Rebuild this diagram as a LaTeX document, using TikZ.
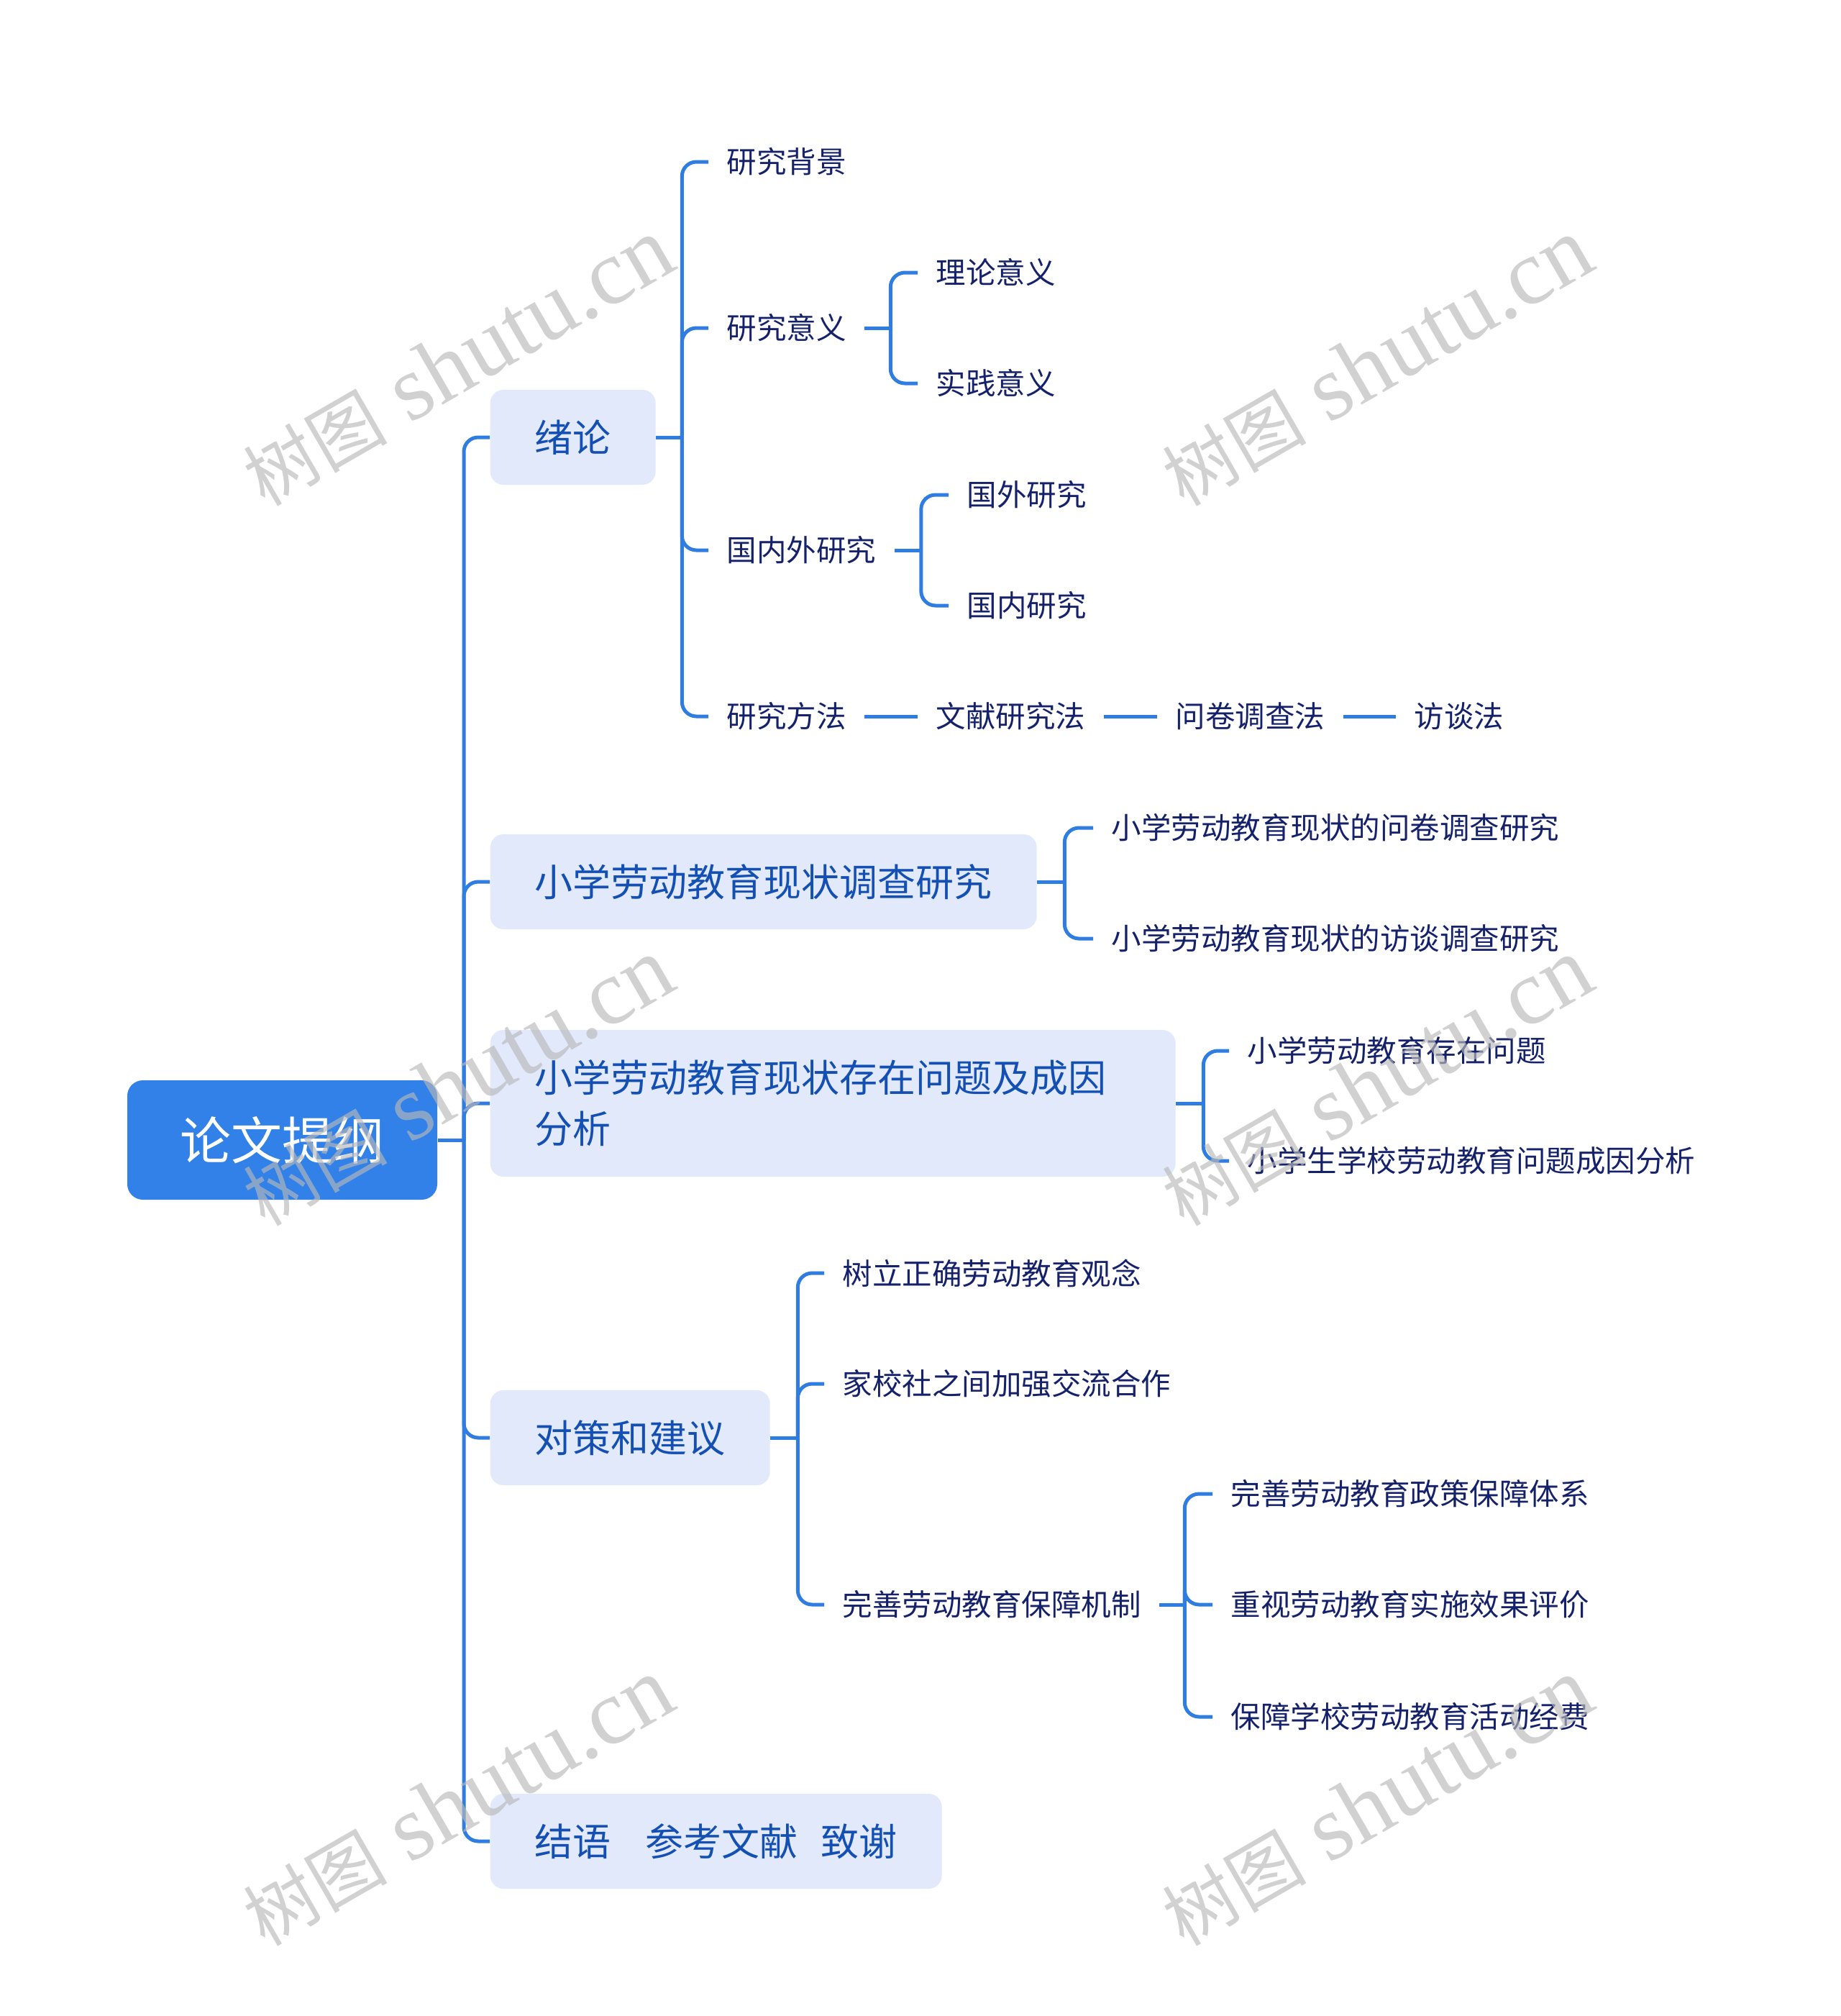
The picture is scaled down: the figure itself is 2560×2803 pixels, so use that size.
\documentclass[tikz,border=0pt]{standalone}
\usepackage{fontspec}
\setmainfont{Noto Sans CJK SC}
\newfontfamily\wmserif{Liberation Serif}
\usetikzlibrary{calc}
\definecolor{linec}{HTML}{2F7DE1}
\definecolor{rootc}{HTML}{3181E8}
\definecolor{boxc}{HTML}{E1E9FB}
\definecolor{lvonetext}{HTML}{1450B4}
\definecolor{lvtwotext}{HTML}{15226B}
\definecolor{wmc}{HTML}{B8B8B8}
\begin{document}
\begin{tikzpicture}[x=0.3pt,y=-0.3pt,
  conn/.style={draw=linec, line width=1.5pt, rounded corners=6pt},
  stub/.style={draw=linec, line width=1.5pt},
  rootbox/.style={fill=rootc, rounded corners=6.5pt, text=white, font=\fontsize{21.3}{25}\selectfont, minimum width=129.3pt, minimum height=49.8pt, inner sep=0pt},
  lvone/.style={fill=boxc, rounded corners=5.5pt, text=lvonetext, font=\fontsize{15.9}{21.3}\selectfont, inner xsep=18.6pt, inner ysep=0pt, minimum height=39.6pt, anchor=west},
  lvtwo/.style={text=lvtwotext, font=\fontsize{12.45}{15}\selectfont, inner xsep=7.5pt, inner ysep=0pt, anchor=west},
  wm/.style={text=wmc, opacity=0.65, rotate=30, inner sep=0pt, anchor=base east, font=\wmserif\fontsize{38.7}{40}\selectfont}
]
\useasboundingbox (0,0) rectangle (2560,2803);

% root
\node[rootbox] (root) at (392.5,1585) {论文提纲};
\coordinate (trunk) at (645,1585);

% level 1
\node[lvone] (xulun) at (681,608) {绪论};
\node[lvone] (diaocha) at (681,1226) {小学劳动教育现状调查研究};
\node[lvone, text width=248.7pt, align=left, minimum height=61.2pt] (wenti) at (681,1534) {小学劳动教育现状存在问题及成因\\分析};
\node[lvone] (duice) at (681,1999) {对策和建议};
\node[lvone] (jieyu) at (681,2560) {结语\hspace{14.4pt}参考文献\hspace{9.6pt}致谢};

\draw[stub] (root.east) -- (trunk);
\foreach \n in {xulun,diaocha,wenti,duice,jieyu} \draw[conn] (trunk) |- (\n.west);

% 绪论 children
\node[lvtwo] (bj) at (985,225) {研究背景};
\node[lvtwo] (yy) at (985,456) {研究意义};
\node[lvtwo] (gnw) at (985,765) {国内外研究};
\node[lvtwo] (ff) at (985,996) {研究方法};
\coordinate (jx) at ($(xulun.east)+(36,0)$);
\draw[stub] (xulun.east) -- (jx);
\foreach \n in {bj,yy,gnw,ff} \draw[conn] (jx) |- (\n.west);

% 研究意义 children
\node[lvtwo] (ll) at (1276,379) {理论意义};
\node[lvtwo] (sj) at (1276,533) {实践意义};
\coordinate (jyy) at ($(yy.east)+(36,0)$);
\draw[stub] (yy.east) -- (jyy);
\foreach \n in {ll,sj} \draw[conn] (jyy) |- (\n.west);

% 国内外研究 children
\node[lvtwo] (gw) at (1319,688) {国外研究};
\node[lvtwo] (gn) at (1319,842) {国内研究};
\coordinate (jg) at ($(gnw.east)+(37,0)$);
\draw[stub] (gnw.east) -- (jg);
\foreach \n in {gw,gn} \draw[conn] (jg) |- (\n.west);

% 研究方法 chain
\node[lvtwo] (wx) at (1276,996) {文献研究法};
\node[lvtwo] (wj) at (1609,996) {问卷调查法};
\node[lvtwo] (ft) at (1941,996) {访谈法};
\draw[stub] (ff.east) -- (wx.west);
\draw[stub] (wx.east) -- (wj.west);
\draw[stub] (wj.east) -- (ft.west);

% 调查研究 children
\node[lvtwo] (dc1) at (1520,1151) {小学劳动教育现状的问卷调查研究};
\node[lvtwo] (dc2) at (1520,1305) {小学劳动教育现状的访谈调查研究};
\coordinate (jd) at ($(diaocha.east)+(38,0)$);
\draw[stub] (diaocha.east) -- (jd);
\foreach \n in {dc1,dc2} \draw[conn] (jd) |- (\n.west);

% 存在问题 children
\node[lvtwo] (wt1) at (1709,1461) {小学劳动教育存在问题};
\node[lvtwo] (wt2) at (1709,1614) {小学生学校劳动教育问题成因分析};
\coordinate (jw) at ($(wenti.east)+(38,0)$);
\draw[stub] (wenti.east) -- (jw);
\foreach \n in {wt1,wt2} \draw[conn] (jw) |- (\n.west);

% 对策和建议 children
\node[lvtwo] (dc) at (1146,1770) {树立正确劳动教育观念};
\node[lvtwo] (jx2) at (1146,1924) {家校社之间加强交流合作};
\node[lvtwo] (ws) at (1146,2231) {完善劳动教育保障机制};
\coordinate (jdc) at ($(duice.east)+(38,0)$);
\draw[stub] (duice.east) -- (jdc);
\foreach \n in {dc,jx2,ws} \draw[conn] (jdc) |- (\n.west);

% 完善劳动教育保障机制 children
\node[lvtwo] (zc) at (1686,2077) {完善劳动教育政策保障体系};
\node[lvtwo] (pj) at (1686,2231) {重视劳动教育实施效果评价};
\node[lvtwo] (jf) at (1686,2387) {保障学校劳动教育活动经费};
\coordinate (jws) at ($(ws.east)+(35,0)$);
\draw[stub] (ws.east) -- (jws);
\foreach \n in {zc,pj,jf} \draw[conn] (jws) |- (\n.west);

% watermarks
\foreach \wx/\wy [count=\i] in {946/372, 2224/372, 946/1373, 2224/1373, 946/2374, 2224/2374}
  \node[wm, name=wm\i] at (\wx,\wy) {{\rmfamily\fontsize{30}{32}\selectfont 树图} shutu.cn};
\end{tikzpicture}
\end{document}
